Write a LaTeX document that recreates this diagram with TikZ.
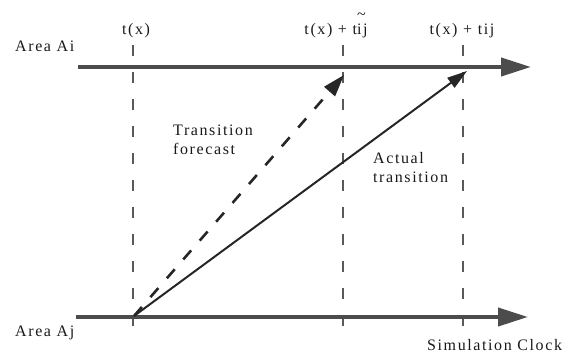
\documentclass[tikz,border=0pt]{standalone}
\usepackage{fontspec}
\setmainfont{Liberation Serif}[LetterSpace=10]
\usetikzlibrary{arrows.meta}
\tikzset{lbl/.style={font=\fontsize{16}{19}\selectfont,text=black!90,inner sep=0pt},
  clock/.style={line width=4pt,black!70,-{Triangle[length=30pt,width=18pt]}},
  tick/.style={line width=1.4pt,black!65,dash pattern=on 11pt off 16pt},
  move/.style={line width=2pt,black!85,-{Triangle[length=20pt,width=12pt]}}}

\begin{document}
\begin{tikzpicture}[x=1pt,y=-1pt]
\useasboundingbox (0,0) rectangle (576,355);
\foreach \n/\x in {a/133,b/343,c/463} {\coordinate (\n top) at (\x,45); \coordinate (\n bot) at (\x,341); \draw[tick] (\n top) -- (\n bot);}
\coordinate (i0) at (78,67); \coordinate (i1) at (531,67);
\coordinate (j0) at (76,317); \coordinate (j1) at (528,317);
\draw[clock] (i0) -- (i1);
\draw[clock] (j0) -- (j1);
\coordinate (src) at (134,316); \coordinate (fcst) at (344,75); \coordinate (actl) at (467,71);
\draw[move,line width=2.6pt,dash pattern=on 12pt off 13pt,-{Triangle[length=22pt,width=14pt]}] (src) -- (fcst);
\draw[move] (src) -- (actl);
\node[lbl,anchor=base west] (ai) at (15,52) {Area Ai};
\node[lbl,anchor=base west] (aj) at (15,337) {Area Aj};
\node[lbl,anchor=base west] (clk) at (427,351) {Simulation Clock};
\node[lbl,anchor=base] (tx) at (136,35) {t(x)};
\node[lbl,anchor=base] (txf) at (336,35) {t(x) + t\rlap{\raisebox{0.95em}{\textasciitilde}}ij};
\node[lbl,anchor=base] (txa) at (462,35) {t(x) + tij};
\node[lbl,align=left,anchor=west] (fc) at (173,140) {Transition\\forecast};
\node[lbl,align=left,anchor=west] (ac) at (373,168) {Actual\\transition};
\end{tikzpicture}
\end{document}
